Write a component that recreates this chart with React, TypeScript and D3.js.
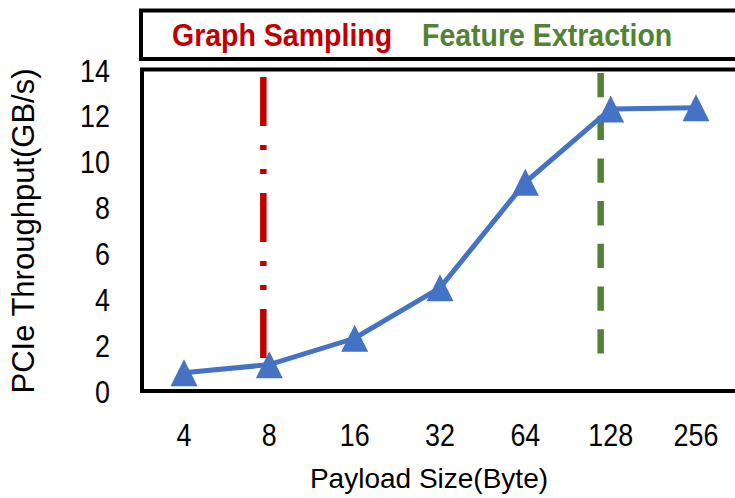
import React, { useEffect, useRef } from "react";
import * as d3 from "d3";

const payloadSizes = ["4", "8", "16", "32", "64", "128", "256"];
const throughput = [0.8, 1.15, 2.3, 4.5, 9.1, 12.3, 12.35];
const yTicks = [0, 2, 4, 6, 8, 10, 12, 14];
const phaseLabels = ["Graph Sampling", "Feature Extraction"];
const phaseAt = ["8", "128"];

const W = 735;
const H = 498;
const FONT = "'Liberation Sans', Arial, sans-serif";

const App = () => {
  const ref = useRef<SVGSVGElement>(null);

  useEffect(() => {
    const svg = d3.select(ref.current);
    svg.selectAll("*").remove();

    const x = d3.scalePoint().domain(payloadSizes).range([184, 696]);
    const y = d3.scaleLinear().domain([0, 14]).range([391, 70]);

    // legend box (right side runs off the picture)
    svg
      .append("rect")
      .attr("x", 141)
      .attr("y", 10.5)
      .attr("width", 700)
      .attr("height", 48.5)
      .attr("fill", "none")
      .attr("stroke", "#000")
      .attr("stroke-width", 4);

    const legendColors = ["#C00000", "#548235"];
    const legendX = [172, 422];
    phaseLabels.forEach((label, i) => {
      svg
        .append("text")
        .attr("transform", `translate(${legendX[i]},46) scale(0.92,1)`)
        .attr("font-family", FONT)
        .attr("font-weight", "bold")
        .attr("font-size", 31)
        .attr("fill", legendColors[i])
        .text(label);
    });

    // plot frame
    svg
      .append("rect")
      .attr("x", 142)
      .attr("y", y(14) - 0.5)
      .attr("width", 700)
      .attr("height", y(0) - y(14) + 0.5)
      .attr("fill", "none")
      .attr("stroke", "#000")
      .attr("stroke-width", 4);

    // y tick labels
    yTicks.forEach((t) => {
      svg
        .append("text")
        .attr("transform", `translate(110,${y(t)}) scale(0.84,1)`)
        .attr("dy", "0.36em")
        .attr("text-anchor", "end")
        .attr("font-family", FONT)
        .attr("font-size", 32)
        .text(t);
    });

    // x tick labels
    payloadSizes.forEach((p) => {
      svg
        .append("text")
        .attr("transform", `translate(${x(p)},446) scale(0.84,1)`)
        .attr("text-anchor", "middle")
        .attr("font-family", FONT)
        .attr("font-size", 32)
        .text(p);
    });

    // phase lines
    const lineOffset = [-6, -10];
    const lineTop = [77, 73];
    const lineBottom = [358, 355];
    const dashes = ["49 19 5 19 5 19", "24.3 18.4"];
    phaseAt.forEach((p, i) => {
      const px = (x(p) as number) + lineOffset[i];
      svg
        .append("line")
        .attr("x1", px)
        .attr("x2", px)
        .attr("y1", lineTop[i])
        .attr("y2", lineBottom[i])
        .attr("stroke", legendColors[i])
        .attr("stroke-width", 6.5)
        .attr("stroke-dasharray", dashes[i]);
    });

    // throughput line
    const line = d3
      .line<number>()
      .x((_, i) => x(payloadSizes[i]) as number)
      .y((d) => y(d));

    svg
      .append("path")
      .datum(throughput)
      .attr("d", line)
      .attr("fill", "none")
      .attr("stroke", "#4472C4")
      .attr("stroke-width", 5);

    svg
      .append("g")
      .selectAll("path")
      .data(throughput)
      .enter()
      .append("path")
      .attr("d", "M0,-13.5L13.5,13.5L-13.5,13.5Z")
      .attr("transform", (d, i) => `translate(${x(payloadSizes[i])},${y(d)})`)
      .attr("fill", "#4472C4");

    // axis titles
    svg
      .append("text")
      .attr("x", 429)
      .attr("y", 488)
      .attr("text-anchor", "middle")
      .attr("font-family", FONT)
      .attr("font-size", 28)
      .text("Payload Size(Byte)");

    svg
      .append("text")
      .attr("transform", `translate(34,231) rotate(-90)`)
      .attr("text-anchor", "middle")
      .attr("font-family", FONT)
      .attr("font-size", 31)
      .text("PCIe Throughput(GB/s)");
  }, []);

  return (
    <svg
      ref={ref}
      width={W}
      height={H}
      style={{ position: "absolute", left: 0, top: 0, background: "#fff" }}
    ></svg>
  );
};

export default App;
